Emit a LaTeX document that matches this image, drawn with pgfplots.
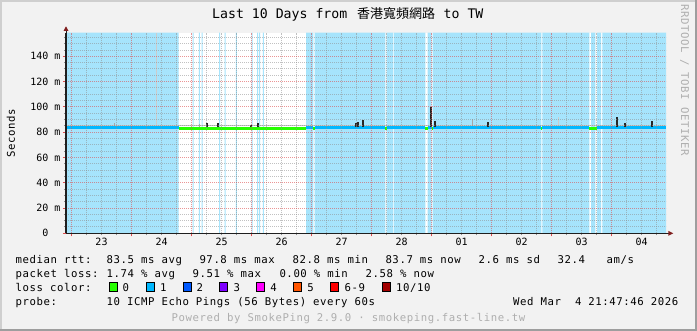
\documentclass[border=0pt]{standalone}
\usepackage{pgfplots}
\pgfplotsset{compat=1.18}
\usepackage{fontspec}
\newfontfamily\legfont{DejaVu Sans Mono}[LetterSpace=5.4]
\newfontfamily\axfont{DejaVu Sans Mono}
\newfontfamily\cjkfont{Noto Sans CJK TC}
\definecolor{bgc}{HTML}{F2F2F2}
\definecolor{shadea}{HTML}{CFCFCF}
\definecolor{shadeb}{HTML}{9E9E9E}
\definecolor{lossbg}{RGB}{166,228,252}
\definecolor{mgridc}{RGB}{222,79,79}
\definecolor{gridc}{RGB}{143,143,143}
\definecolor{axisc}{HTML}{1F1F1F}
\definecolor{arrowc}{HTML}{801F1F}
\definecolor{lblue}{HTML}{00B8FF}
\definecolor{lgreen}{HTML}{26FF00}
\definecolor{ltwo}{HTML}{0059FF}
\definecolor{lthree}{HTML}{7E00FF}
\definecolor{lfour}{HTML}{FF00FF}
\definecolor{lfive}{HTML}{FF5500}
\definecolor{lsix}{HTML}{FF0000}
\definecolor{lten}{HTML}{A10000}
\definecolor{wmark}{HTML}{AEAEAE}
\newcommand\LF{\legfont\fontsize{10.67}{12}\selectfont}
\newcommand\AF{\axfont\fontsize{10}{12}\selectfont}
\newcommand\TF{\axfont\fontsize{13.2}{15}\selectfont}
\begin{document}
\begin{tikzpicture}
\begin{scope}[x=1pt,y=1pt]
\fill[bgc] (0,0) rectangle (697,-331);
\fill[shadea] (0,0) rectangle (697,-2);
\fill[shadea] (0,0) rectangle (2,-331);
\fill[shadeb] (0,-329) rectangle (697,-331);
\fill[shadeb] (695,0) rectangle (697,-331);
\coordinate (axorig) at (66,-233.3);
\end{scope}
\begin{axis}[
  at={(axorig)}, anchor=south west,
  width=600pt, height=200.6pt, scale only axis,
  xmin=-0.092, xmax=9.908, ymin=0, ymax=158.7,
  axis lines*=left,
  axis line style={draw=axisc, line width=1pt},
  axis background/.style={fill=white},
  axis on top,
  xtick={0,1,2,3,4,5,6,7,8,9}, xticklabels={},
  minor xtick={0.25,0.5,0.75,1.25,1.5,1.75,2.25,2.5,2.75,3.25,3.5,3.75,4.25,4.5,4.75,5.25,5.5,5.75,6.25,6.5,6.75,7.25,7.5,7.75,8.25,8.5,8.75,9.25,9.5,9.75},
  extra x ticks={0.5,1.5,2.5,3.5,4.5,5.5,6.5,7.5,8.5,9.5},
  extra x tick labels={23,24,25,26,27,28,01,02,03,04},
  extra x tick style={grid=none, major tick length=0pt},
  ytick={0,20,40,60,80,100,120,140},
  yticklabels={0\phantom{\ m},20 m,40 m,60 m,80 m,100 m,120 m,140 m},
  minor ytick={5,10,15,25,30,35,45,50,55,65,70,75,85,90,95,105,110,115,125,130,135,145,150,155},
  grid=both,
  major grid style={mgridc, opacity=0.6, line width=1pt, dash pattern=on 1pt off 1pt},
  minor grid style={gridc, opacity=0.55, line width=1pt, dash pattern=on 1pt off 1pt},
  tick align=outside,
  major tick length=3pt, minor tick length=2pt,
  major tick style={mgridc, line width=1pt},
  minor tick style={gridc, line width=1pt},
  tick label style={font=\AF, inner sep=0pt},
  yticklabel style={anchor=east, xshift=-2.4pt},
  xticklabel style={anchor=north, yshift=-5pt},
]
% loss background (loss = 1 of 10 pings)
\addplot[const plot, fill=lossbg, draw=none] coordinates {
(-0.092,158.7)(1.7833,0)(2.0167,158.7)(2.0333,0)(2.1217,158.7)(2.1383,0)
(2.1667,158.7)(2.1833,0)(2.4583,158.7)(2.475,0)(2.55,158.7)(2.5667,0)
(2.7383,158.7)(2.755,0)(3.0,158.7)(3.0167,0)(3.095,158.7)(3.1117,0)
(3.1283,158.7)(3.145,0)(3.1883,158.7)(3.205,0)(3.9083,158.7)(4.03,0)
(4.0533,158.7)(5.23,0)(5.2533,158.7)(5.3567,0)(5.37,158.7)(5.8967,0)
(5.9367,158.7)(6.0033,0)(6.02,158.7)(7.83,0)(7.8467,158.7)(8.63,0)
(8.6583,158.7)(8.73,0)(8.7583,158.7)(8.825,0)(8.8467,158.7)(9.908,158.7)
} \closedcycle;
% smoke
\addplot[gray!45, line width=1.2pt] coordinates {(-0.092,85.5)(9.908,85.5)};
\addplot[gray!40, line width=1pt, unbounded coords=jump] coordinates {
(1.408,84)(1.408,158.7)(1.408,nan)(8.113,84)(8.113,92.2)};
\addplot[gray!70, line width=1pt, unbounded coords=jump] coordinates {
(0.72,84)(0.72,87)(0.72,nan)(2.13,84)(2.13,86.2)(2.13,nan)(6.68,84)(6.68,90.2)};
% median rtt, coloured by loss
\addplot[lblue, line width=2.5pt, unbounded coords=jump] coordinates {
(-0.092,83.7)(1.7833,83.7)(1.7833,nan)(3.9083,83.7)(4.03,83.7)(4.03,nan)
(4.0533,83.7)(5.23,83.7)(5.23,nan)(5.2533,83.7)(5.8967,83.7)(5.8967,nan)
(5.9367,83.7)(6.0033,83.7)(6.0033,nan)(6.02,83.7)(7.83,83.7)(7.83,nan)
(7.8467,83.7)(8.63,83.7)(8.63,nan)(8.7525,83.7)(9.908,83.7)};
\addplot[lgreen, line width=2.5pt, unbounded coords=jump] coordinates {
(1.7833,82.9)(3.9083,82.9)(3.9083,nan)(4.03,82.9)(4.0533,82.9)(4.0533,nan)
(5.23,82.9)(5.2533,82.9)(5.2533,nan)(5.8967,82.9)(5.9367,82.9)(5.9367,nan)
(6.0033,82.9)(6.02,82.9)(6.02,nan)(7.83,82.9)(7.8467,82.9)(7.8467,nan)
(8.63,82.9)(8.7525,82.9)};
% dense smoke spikes
\addplot[black!85, line width=1.8pt, unbounded coords=jump] coordinates {
(2.263,84)(2.263,87.5)(2.263,nan)(2.447,84)(2.447,87.5)(2.447,nan)
(2.987,84)(2.987,85.8)(2.987,nan)(3.103,84)(3.103,87.5)(3.103,nan)
(4.737,84)(4.737,87.5)(4.737,nan)(4.78,84)(4.78,88.3)(4.78,nan)
(4.853,84)(4.853,89.6)(4.853,nan)(5.987,84)(5.987,99.7)(5.987,nan)
(6.058,84)(6.058,88.6)(6.058,nan)(6.937,84)(6.937,88.1)(6.937,nan)
(9.087,84)(9.087,92)(9.087,nan)(9.22,84)(9.22,87.5)(9.22,nan)
(9.675,84)(9.675,89.1)};
\end{axis}
\begin{scope}[x=1pt,y=1pt]
% axis extensions and arrows
\draw[axisc, line width=1pt] (66,-233.3) -- (668.5,-233.3);
\draw[axisc, line width=1pt] (66,-233.3) -- (66,-30.5);
\fill[arrowc] (673.3,-233.3) -- (668.3,-230.8) -- (668.3,-235.8) -- cycle;
\fill[arrowc] (66,-26.3) -- (63.5,-31) -- (68.5,-31) -- cycle;
% title
\node[anchor=base west, inner sep=0pt, font=\TF] at (212,-19) {Last 10 Days from};
\node[anchor=base west, inner sep=0pt] at (356.8,-19) {\cjkfont\fontsize{13}{14}\selectfont 香港寬頻網路};
\node[anchor=base west, inner sep=0pt, font=\TF] at (443.5,-19) {to TW};
% axis title and watermark
\node[rotate=90, anchor=base, inner sep=0pt, font=\LF] at (15,-133.3) {Seconds};
\node[rotate=-90, anchor=base, inner sep=0pt, font=\LF, text=wmark] at (681,-80) {RRDTOOL / TOBI OETIKER};
% legend
\begin{scope}[every node/.style={anchor=base west, inner sep=0pt, font=\LF}]
\node at (15.5,-264) {median rtt:};
\node at (106.5,-264) {83.5 ms avg};
\node at (199.3,-264) {97.8 ms max};
\node at (292.5,-264) {82.8 ms min};
\node at (385.3,-264) {83.7 ms now};
\node at (478.5,-264) {2.6 ms sd};
\node at (557.5,-264) {32.4};
\node at (606.5,-264) {am/s};
\node at (15.5,-278) {packet loss:};
\node at (106.5,-278) {1.74 \% avg};
\node at (192.5,-278) {9.51 \% max};
\node at (279.3,-278) {0.00 \% min};
\node at (365.5,-278) {2.58 \% now};
\node at (15.5,-292) {loss color:};
\node at (122.5,-292) {0};
\node at (159.8,-292) {1};
\node at (196.5,-292) {2};
\node at (233.5,-292) {3};
\node at (270.2,-292) {4};
\node at (307.2,-292) {5};
\node at (344.5,-292) {6-9};
\node at (396,-292) {10/10};
\node at (15.5,-306) {probe:};
\node at (106.5,-306) {10 ICMP Echo Pings (56 Bytes) every 60s};
\node at (513,-306) {Wed Mar~~4 21:47:46 2026};
\end{scope}
\foreach \x/\c in {108.7/lgreen,145.7/lblue,182.7/ltwo,219.3/lthree,256.3/lfour,293.3/lfive,330/lsix,381.7/lten}
  \filldraw[fill=\c, draw=black, line width=1pt] (\x+0.5,-282.5) rectangle (\x+8.5,-291.5);
\node[anchor=base, inner sep=0pt, font=\LF, text=wmark] at (348.5,-322) {Powered by SmokePing 2.9.0 · smokeping.fast-line.tw};
\end{scope}
\pgfresetboundingbox
\useasboundingbox (0,0) rectangle (697pt,-331pt);
\end{tikzpicture}
\end{document}
